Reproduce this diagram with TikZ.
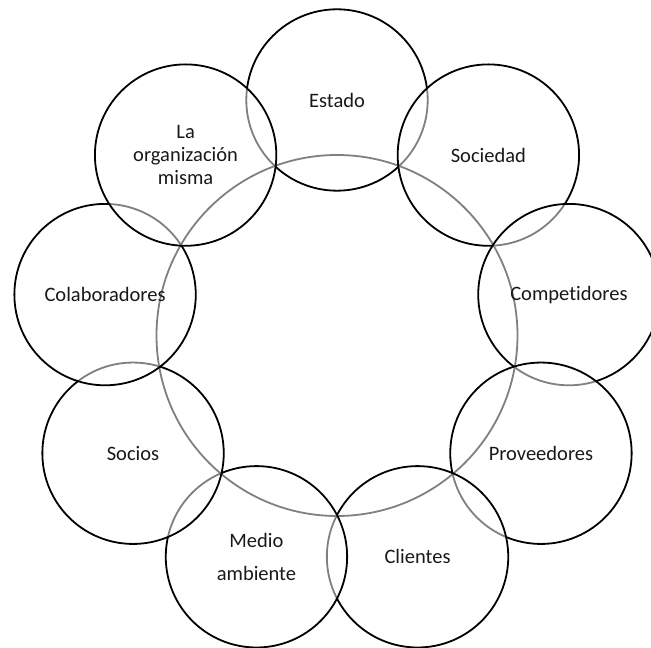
\documentclass[tikz,border=0pt]{standalone}
\usepackage{fontspec}
\setmainfont{Carlito}[Ligatures=NoCommon]
\usetikzlibrary{calc}
\begin{document}
\begin{tikzpicture}[x=1pt,y=1pt,
  ring/.style={circle, draw=black, line width=1.8pt, fill=white, fill opacity=0.5, text opacity=1,
    minimum size=181.4pt, inner sep=0pt, align=center, font=\fontsize{20.5}{22.8}\selectfont, text=black!90}]
\useasboundingbox (0,0) rectangle (651,648);
\coordinate (c) at (337,312.5);
\node[circle, draw=black, line width=1.8pt, minimum size=361pt, inner sep=0pt] (hub) at (c) {};
\node[ring] (estado) at ($(c)+(90:235.5)$) {Estado};
\node[ring] (sociedad) at ($(c)+(50:235.5)$) {Sociedad};
\node[ring] (competidores) at ($(c)+(10:235.5)$) {Competidores};
\node[ring] (proveedores) at ($(c)+(-30:235.5)$) {Proveedores};
\node[ring] (clientes) at ($(c)+(-70:235.5)$) {Clientes};
\node[ring, font=\fontsize{20.5}{33}\selectfont] (medio) at ($(c)+(-110:235.5)$) {Medio\\ambiente};
\node[ring] (socios) at ($(c)+(-150:235.5)$) {Socios};
\node[ring] (colab) at ($(c)+(170:235.5)$) {Colaboradores};
\node[ring] (org) at ($(c)+(130:235.5)$) {La\\organización\\misma};
\end{tikzpicture}
\end{document}
